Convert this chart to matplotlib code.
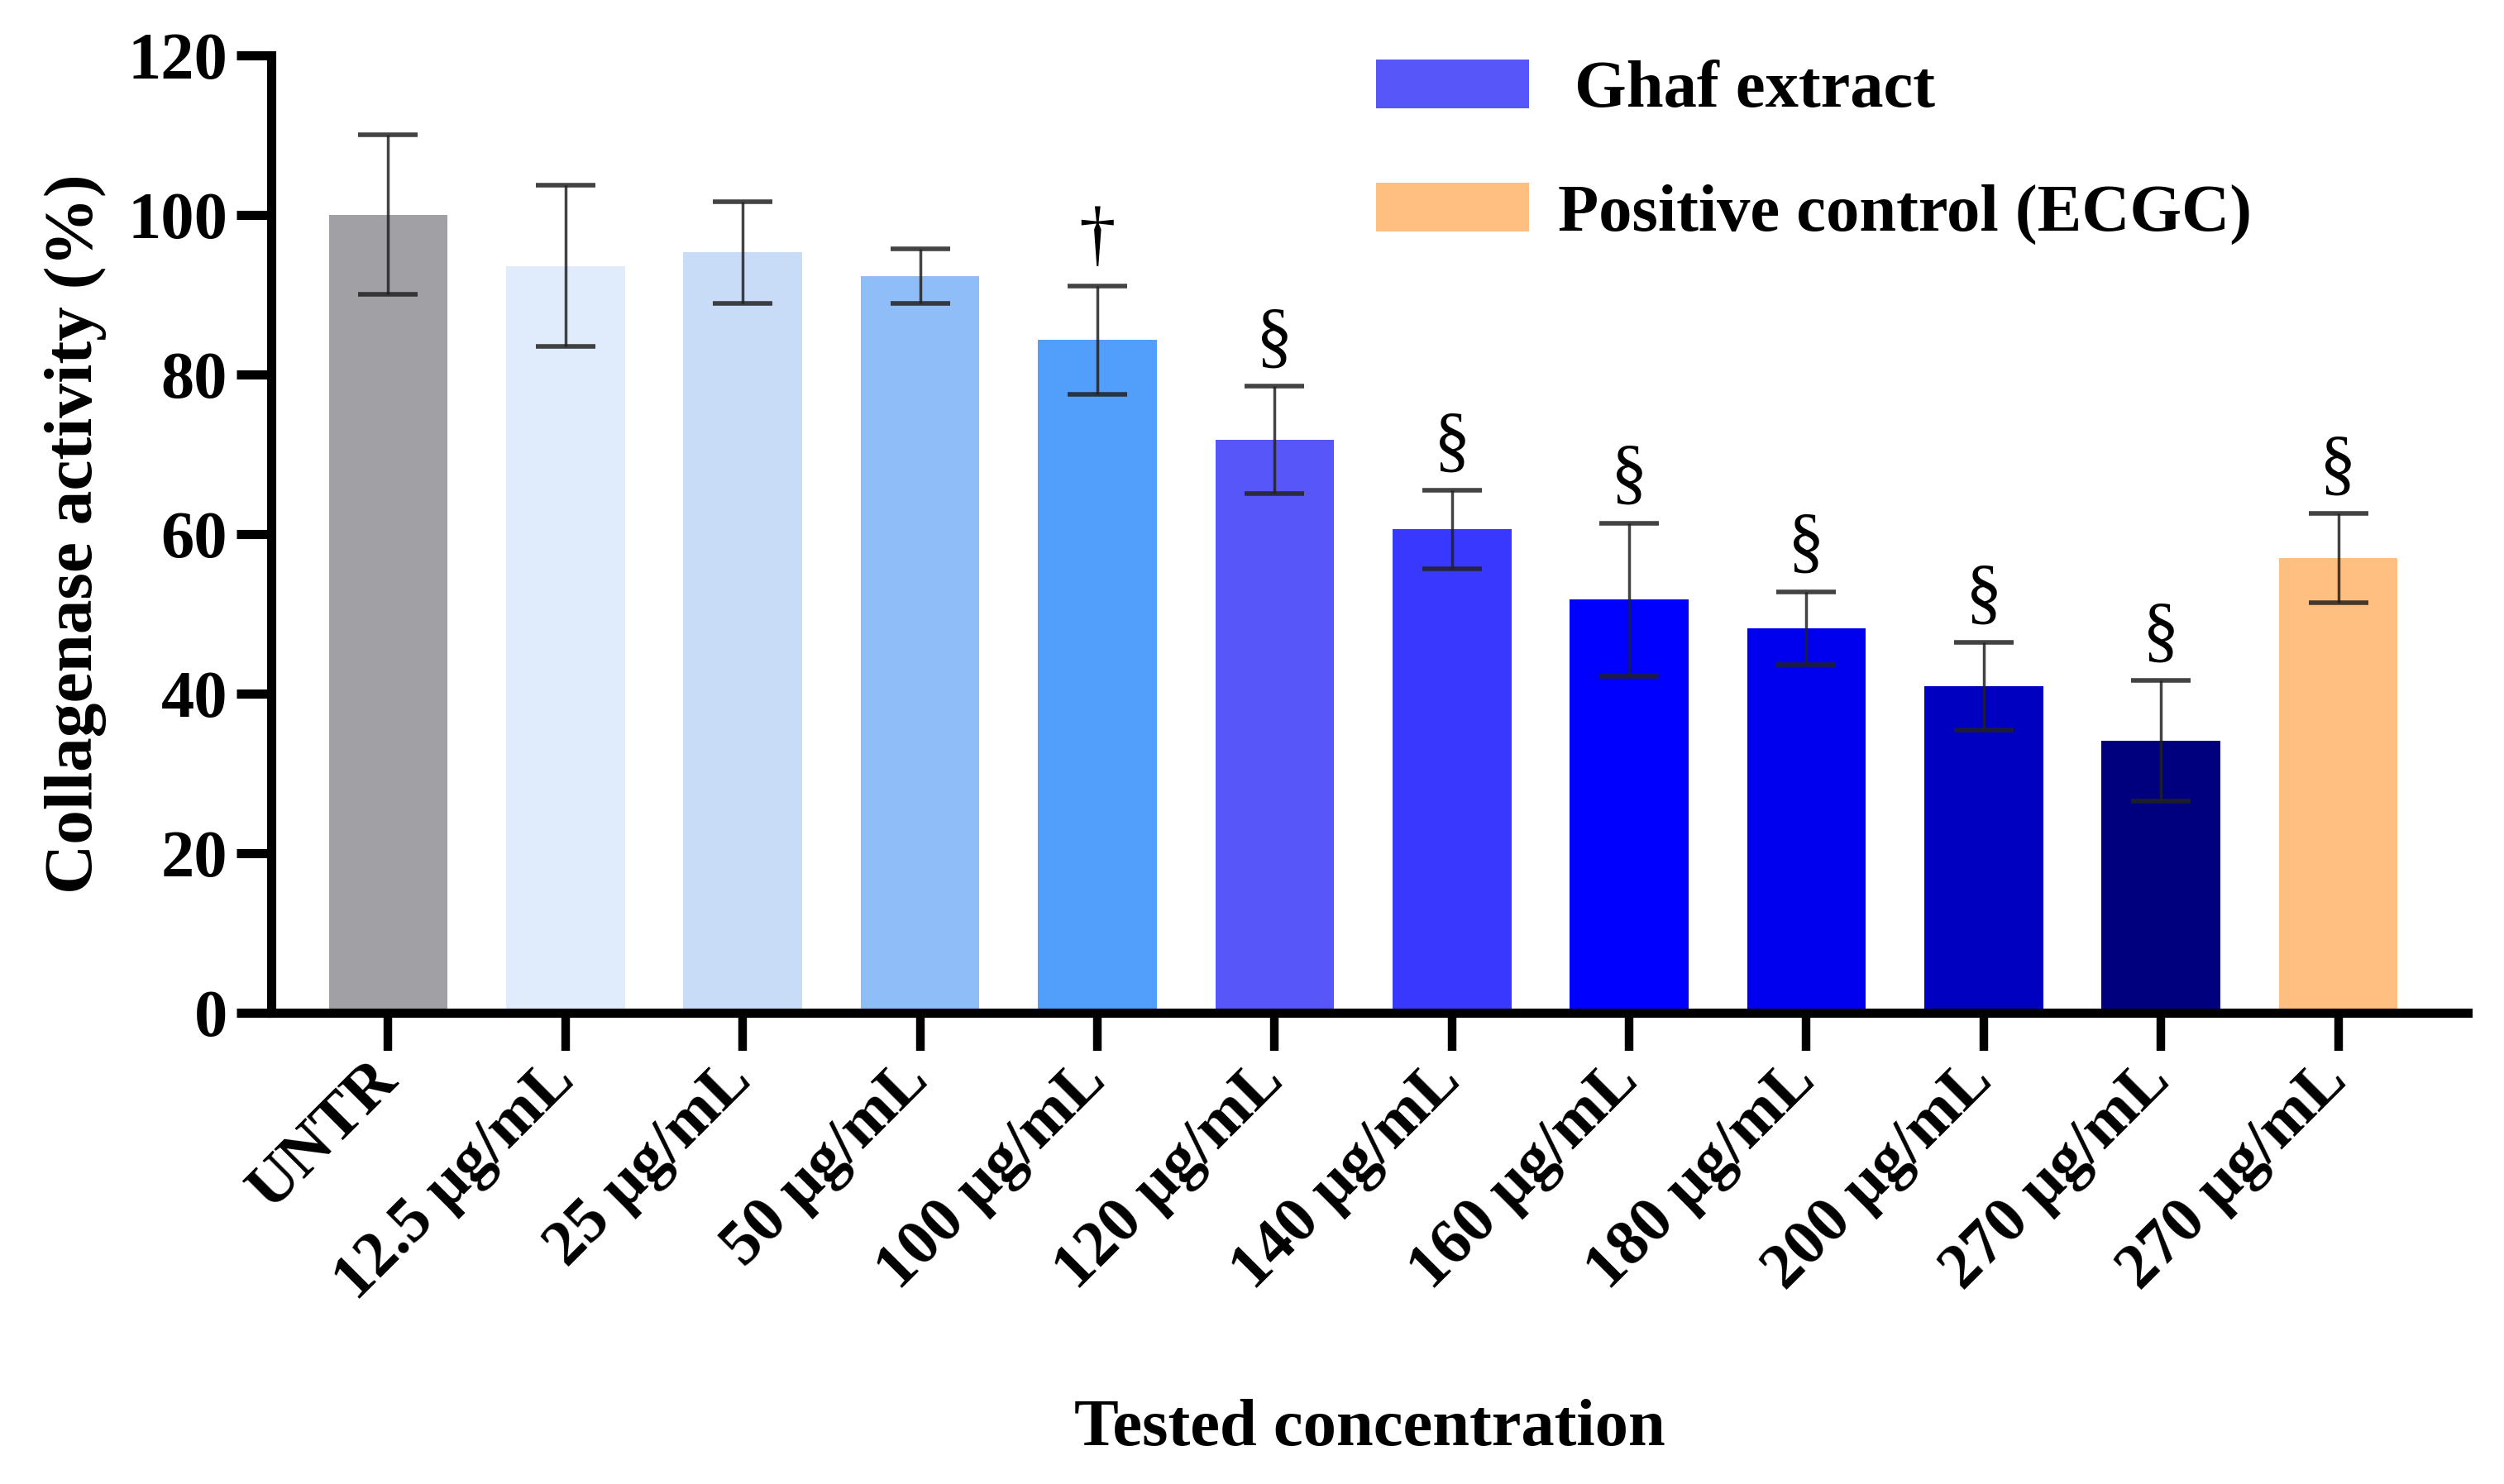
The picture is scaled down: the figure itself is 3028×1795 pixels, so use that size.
import matplotlib
matplotlib.use("Agg")
import matplotlib.pyplot as plt
from matplotlib.patches import Patch

plt.rcParams['font.family'] = ['Liberation Serif', 'DejaVu Serif']
plt.rcParams['font.weight'] = 'bold'

categories = ["UNTR", "12.5 \u03bcg/mL", "25 \u03bcg/mL", "50 \u03bcg/mL", "100 \u03bcg/mL",
              "120 \u03bcg/mL", "140 \u03bcg/mL", "160 \u03bcg/mL", "180 \u03bcg/mL",
              "200 \u03bcg/mL", "270 \u03bcg/mL", "270 \u03bcg/mL"]
values = [100.0, 93.6, 95.3, 92.3, 84.3, 71.8, 60.6, 51.8, 48.2, 40.9, 34.1, 57.0]
errors = [10.0, 10.1, 6.4, 3.4, 6.8, 6.7, 4.9, 9.6, 4.6, 5.5, 7.6, 5.6]
marks = ["", "", "", "", "\u2020", "\u00a7", "\u00a7", "\u00a7", "\u00a7", "\u00a7", "\u00a7", "\u00a7"]
colors = ["#A0A0A5", "#E0ECFB", "#C8DCF8", "#8FBDF8", "#529EFB", "#5757F9",
          "#3838FF", "#0000FF", "#0000EE", "#0000C0", "#00007E", "#FFBF80"]
legend_labels = [" Ghaf extract", "Positive control (ECGC)"]
legend_colors = ["#5757F9", "#FFBF80"]

fig = plt.figure(figsize=(30.28, 17.95), dpi=100)
ax = fig.add_axes([0.1083, 0.3175, 0.8772, 0.6452])

x = list(range(len(categories)))
ax.bar(x, values, width=0.67, color=colors, zorder=1)
ax.errorbar(x, values, yerr=errors, fmt='none', ecolor='#222222', elinewidth=2.5,
            capsize=26, capthick=4, alpha=0.85, zorder=2)
for xi, v, e, m in zip(x, values, errors, marks):
    if m:
        ax.text(xi, v + e + 1.5, m, ha='center', va='bottom', fontsize=64,
                fontweight='normal', color='black')

ax.set_xlim(-0.66, 11.73)
ax.set_ylim(0, 120)
ax.set_yticks([0, 20, 40, 60, 80, 100, 120])
ax.set_xticks(x)
ax.set_xticklabels(categories, rotation=45, ha='right', va='center',
                   rotation_mode='anchor', fontsize=56, fontweight='bold')
ax.tick_params(axis='y', labelsize=58, length=30, width=8, pad=8)
ax.tick_params(axis='x', length=33, width=7.5, pad=18)
for lab in ax.get_yticklabels():
    lab.set_fontweight('bold')

for s in ['top', 'right']:
    ax.spines[s].set_visible(False)
for s in ['left', 'bottom']:
    ax.spines[s].set_linewidth(8)

ax.set_ylabel("Collagenase activity (%)", fontsize=60, fontweight='bold', labelpad=18)
ax.set_xlabel("Tested concentration", fontsize=58, fontweight='bold', labelpad=75)

handles = [Patch(facecolor=c) for c in legend_colors]
ax.legend(handles, legend_labels, loc='upper left', bbox_to_anchor=(0.503, 0.996),
          frameon=False, handlelength=2.3, handleheight=0.76,
          labelspacing=0.92, handletextpad=0.43, borderpad=0, borderaxespad=0,
          prop={'weight': 'bold', 'size': 58})

fig.savefig("out.png", dpi=100)
